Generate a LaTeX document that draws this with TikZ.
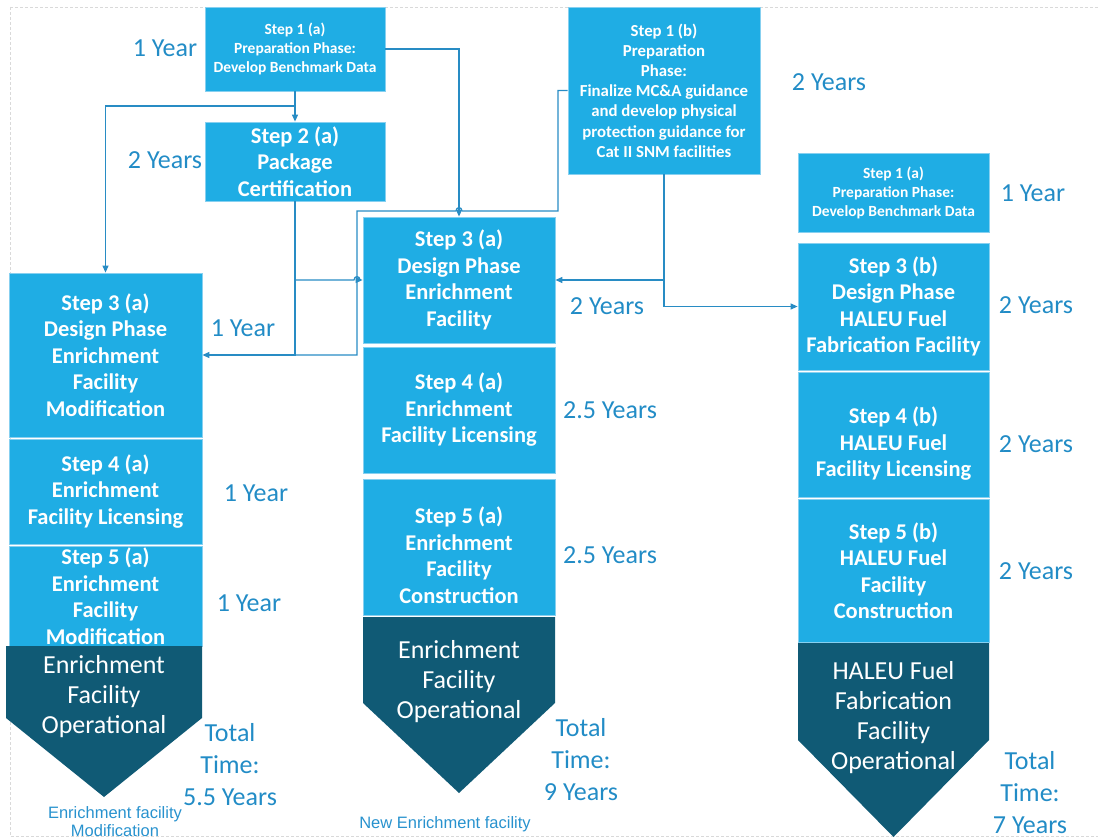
\documentclass[tikz,border=0pt]{standalone}
\usepackage{fontspec}
\setmainfont{Carlito}
\newfontfamily\arialf{Liberation Sans}
\usetikzlibrary{arrows.meta}
\definecolor{boxblue}{RGB}{31,173,228}
\definecolor{boxedge}{RGB}{135,208,240}
\definecolor{darkteal}{RGB}{16,90,117}
\definecolor{lblblue}{RGB}{34,140,198}
\definecolor{lineblue}{RGB}{40,140,196}
\definecolor{capblue}{RGB}{40,146,206}
\begin{document}
\begin{tikzpicture}[x=1pt,y=-1pt,
  stepbox/.style={draw=boxedge, line width=0.8pt, fill=boxblue, text=white, align=center, inner sep=0pt,
    font=\bfseries\fontsize{22.5}{26.5}\selectfont},
  smallbox/.style={stepbox, font=\bfseries\fontsize{15.5}{19}\selectfont},
  midbox/.style={stepbox, font=\bfseries\fontsize{16.8}{20.2}\selectfont},
  boxtext/.style={text=white, align=center, inner sep=0pt, font=\bfseries\fontsize{22.5}{26.5}\selectfont},
  optext/.style={text=white, align=center, inner sep=0pt, font=\fontsize{26}{30}\selectfont},
  lbl/.style={text=lblblue, align=center, inner sep=0pt, font=\fontsize{26}{32}\selectfont},
  captext/.style={text=capblue, align=center, inner sep=0pt, font=\arialf\fontsize{16.5}{18}\selectfont},
  conn/.style={draw=lineblue, line width=1.2pt},
  arr/.style={conn, -{Triangle[length=7pt,width=6pt]}},
  pent/.style={fill=darkteal}
]
\useasboundingbox (0,0) rectangle (1098,840);
\draw[gray!30, line width=0.6pt, dash pattern=on 3pt off 2pt] (10,7) -- (1098,7) (10,7) -- (10,836) -- (1098,836);

% top boxes
\node[smallbox, minimum width=180pt, minimum height=84pt] (s1a) at (295,49)
  {Step 1 (a)\\Preparation Phase:\\Develop Benchmark Data};
\node[stepbox, minimum width=180pt, minimum height=79pt] (s2a) at (295,161.5)
  {Step 2 (a)\\Package\\Certification};
\node[midbox, minimum width=192pt, minimum height=167pt] (s1b) at (664,90.5)
  {Step 1 (b)\\Preparation\\Phase:\\Finalize MC\&A guidance\\and develop physical\\protection guidance for\\Cat II SNM facilities};

% right column
\node[smallbox, minimum width=191pt, minimum height=79pt] (s1ar) at (893.5,192.5)
  {Step 1 (a)\\Preparation Phase:\\Develop Benchmark Data};
\node[stepbox, minimum width=191pt, minimum height=127pt] (s3b) at (893.5,306.5)
  {Step 3 (b)\\Design Phase\\HALEU Fuel\\Fabrication Facility};
\node[stepbox, minimum width=191pt, minimum height=125pt] (s4b) at (893.5,434.5) {};
\node[boxtext] (s4bt) at (893.5,444) {Step 4 (b)\\HALEU Fuel\\Facility Licensing};
\node[stepbox, minimum width=191pt, minimum height=143pt] (s5b) at (893.5,570.5)
  {Step 5 (b)\\HALEU Fuel\\Facility\\Construction};
\fill[pent] (798,643) -- (989,643) -- (989,740) -- (893.5,837) -- (798,740) -- cycle;
\node[optext] (op3) at (893.5,718) {HALEU Fuel\\Fabrication\\Facility\\Operational};

% middle column
\node[stepbox, minimum width=192pt, minimum height=126pt] (s3am) at (459,280)
  {Step 3 (a)\\Design Phase\\Enrichment\\Facility};
\node[stepbox, minimum width=192pt, minimum height=126pt] (s4am) at (459,410)
  {Step 4 (a)\\Enrichment\\Facility Licensing};
\node[stepbox, minimum width=192pt, minimum height=136pt] (s5am) at (459,547) {};
\node[boxtext] (s5amt) at (459,555) {Step 5 (a)\\Enrichment\\Facility\\Construction};
\fill[pent] (363,617) -- (555,617) -- (555,703) -- (459,793) -- (363,703) -- cycle;
\node[optext] (op2) at (459,682) {Enrichment\\Facility\\Operational};

% left column
\node[stepbox, minimum width=193pt, minimum height=164pt] (s3al) at (105.5,355)
  {Step 3 (a)\\Design Phase\\Enrichment\\Facility\\Modification};
\node[stepbox, minimum width=193pt, minimum height=105pt] (s4al) at (105.5,491.5)
  {Step 4 (a)\\Enrichment\\Facility Licensing};
\node[stepbox, minimum width=193pt, minimum height=100pt] (s5al) at (105.5,596)
  {Step 5 (a)\\Enrichment\\Facility\\Modification};
\fill[pent] (6,646) -- (202,646) -- (202,718) -- (104,797) -- (6,718) -- cycle;
\node[optext] (op1) at (104,697) {Enrichment\\Facility\\Operational};

% duration labels
\node[lbl] (d1) at (165,48) {1 Year};
\node[lbl] (d2) at (165,160) {2 Years};
\node[lbl] (d3) at (829,82) {2 Years};
\node[lbl] (d4) at (1033,193) {1 Year};
\node[lbl] (d5) at (1036,305) {2 Years};
\node[lbl] (d6) at (1036,444) {2 Years};
\node[lbl] (d7) at (1036,571) {2 Years};
\node[lbl] (d8) at (243,328) {1 Year};
\node[lbl] (d9) at (256,493) {1 Year};
\node[lbl] (d10) at (249,603) {1 Year};
\node[lbl] (d11) at (607,306) {2 Years};
\node[lbl] (d12) at (610,410) {2.5 Years};
\node[lbl] (d13) at (610,555) {2.5 Years};
\node[lbl] (t1) at (230,765) {Total\\Time:\\5.5 Years};
\node[lbl] (t2) at (581,760) {Total\\Time:\\9 Years};
\node[lbl] (t3) at (1030,793) {Total\\Time:\\7 Years};
\node[captext] (c1) at (115,822) {Enrichment facility\\Modification};
\node[captext] (c2) at (445,824) {New Enrichment facility};

% connectors
\coordinate (j1) at (295,106);
\coordinate (j2) at (295,280);
\coordinate (h1) at (558,211);
\draw[arr] (s1a.south) -- (s2a.north);
\draw[arr] (j1) -| (s3al.north);
\draw[arr] (s1a.east) -| (s3am.north);
\draw[arr] (s2a.south) |- (s3al.east);
\draw[arr] (j2) -- (354,280) .. controls (354,275.5) and (360,275.5) .. (360,280) -- (s3am.west);
\draw[conn] (s1b.west) -| (h1) -- (462,211) .. controls (462,206.5) and (456,206.5) .. (456,211)
  -- (357,211) -- (357,355) -- (s2a.south |- s3al.east);
\draw[arr] (s1b.south) |- (s3b.west);
\draw[arr] (s1b.south |- s3am.east) -- (s3am.east);
\end{tikzpicture}
\end{document}
